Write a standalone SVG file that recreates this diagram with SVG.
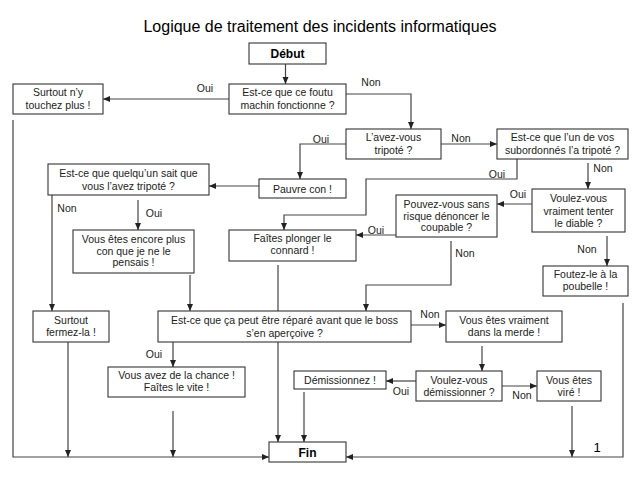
<svg xmlns="http://www.w3.org/2000/svg" width="640" height="480" viewBox="0 0 640 480">
<style>
.box{fill:#fff;stroke:#333;stroke-width:1.1}
.t{font-family:"Liberation Sans",Arial,sans-serif;font-size:10.5px;fill:#222;text-anchor:middle}
.b{font-family:"Liberation Sans",Arial,sans-serif;font-size:12px;font-weight:bold;fill:#000;text-anchor:middle}
.lbl{font-family:"Liberation Sans",Arial,sans-serif;font-size:10.5px;fill:#222;text-anchor:middle}
.c{fill:none;stroke:#444;stroke-width:1.2}
</style>
<defs>
<marker id="ah" markerUnits="userSpaceOnUse" markerWidth="8" markerHeight="8" viewBox="0 0 8 8" refX="7" refY="4" orient="auto">
<path d="M0,1 L7,4 L0,7 Z" fill="#222"/>
</marker>
</defs>
<rect width="640" height="480" fill="#fff"/>
<text x="320" y="32" font-family="Liberation Sans,Arial,sans-serif" font-size="16" fill="#000" text-anchor="middle">Logique de traitement des incidents informatiques</text>

<g id="connectors">
<path class="c" d="M285.5 64 V84" marker-end="url(#ah)"/>
<path class="c" d="M229 99 H103" marker-end="url(#ah)"/>
<path class="c" d="M346 94 H411 V129" marker-end="url(#ah)"/>
<path class="c" d="M441 144 H497" marker-end="url(#ah)"/>
<path class="c" d="M346 144 H300 V179" marker-end="url(#ah)"/>
<path class="c" d="M259 186 H209" marker-end="url(#ah)"/>
<path class="c" d="M517 159 V179 H366 V215 H284 V230" marker-end="url(#ah)"/>
<path class="c" d="M588 163 V189" marker-end="url(#ah)"/>
<path class="c" d="M532 204 H497" marker-end="url(#ah)"/>
<path class="c" d="M607 236 V266" marker-end="url(#ah)"/>
<path class="c" d="M396 235 H356" marker-end="url(#ah)"/>
<path class="c" d="M451 241 V285 H366 V311" marker-end="url(#ah)"/>
<path class="c" d="M623 303 V457 H346" marker-end="url(#ah)"/>
<path class="c" d="M52 195 V311" marker-end="url(#ah)"/>
<path class="c" d="M138 200 V230" marker-end="url(#ah)"/>
<path class="c" d="M190 275 V311" marker-end="url(#ah)"/>
<path class="c" d="M278 265 V311"/>
<path class="c" d="M278 342 V442" marker-end="url(#ah)"/>
<path class="c" d="M173 342 V367" marker-end="url(#ah)"/>
<path class="c" d="M411 325 H446" marker-end="url(#ah)"/>
<path class="c" d="M482 346 V371" marker-end="url(#ah)"/>
<path class="c" d="M416 381 H386" marker-end="url(#ah)"/>
<path class="c" d="M502 386 H537" marker-end="url(#ah)"/>
<path class="c" d="M304 392 V442" marker-end="url(#ah)"/>
<path class="c" d="M572 406 V457" marker-end="url(#ah)"/>
<path class="c" d="M173 411 V457" marker-end="url(#ah)"/>
<path class="c" d="M68 342 V457" marker-end="url(#ah)"/>
<path class="c" d="M13 120 V457 H269" marker-end="url(#ah)"/>
<text class="lbl" x="205" y="92">Oui</text>
<text class="lbl" x="371" y="86">Non</text>
<text class="lbl" x="321" y="143">Oui</text>
<text class="lbl" x="461" y="142">Non</text>
<text class="lbl" x="497" y="178">Oui</text>
<text class="lbl" x="603" y="172">Non</text>
<text class="lbl" x="518" y="198">Oui</text>
<text class="lbl" x="376" y="234">Oui</text>
<text class="lbl" x="465" y="257">Non</text>
<text class="lbl" x="587" y="253">Non</text>
<text class="lbl" x="67" y="212">Non</text>
<text class="lbl" x="154" y="217">Oui</text>
<text class="lbl" x="430" y="318">Non</text>
<text class="lbl" x="154" y="358">Oui</text>
<text class="lbl" x="401" y="395">Oui</text>
<text class="lbl" x="522" y="399">Non</text>
</g>

<g id="debut"><rect class="box" x="249" y="43" width="77" height="21"/><text class="b" x="287.5" y="58">Début</text></g>
<g id="fonctionne"><rect class="box" x="229" y="84" width="117" height="30"/><text class="t" x="287.5" y="96">Est-ce que ce foutu</text><text class="t" x="287.5" y="109">machin fonctionne ?</text></g>
<g id="touchez"><rect class="box" x="13" y="84" width="90" height="30"/><text class="t" x="58" y="96">Surtout n’y</text><text class="t" x="58" y="109">touchez plus !</text></g>
<g id="tripote"><rect class="box" x="346" y="129" width="95" height="30"/><text class="t" x="393.5" y="141">L’avez-vous</text><text class="t" x="393.5" y="154">tripoté ?</text></g>
<g id="subordonnes"><rect class="box" x="497" y="129" width="131" height="30"/><text class="t" x="562.5" y="141">Est-ce que l’un de vos</text><text class="t" x="562.5" y="154">subordonnés l’a tripoté ?</text></g>
<g id="pauvre"><rect class="box" x="259" y="179" width="87" height="19"/><text class="t" x="302.5" y="192.5">Pauvre con !</text></g>
<g id="quelquun"><rect class="box" x="48" y="164" width="161" height="31"/><text class="t" x="128.5" y="177">Est-ce que quelqu’un sait que</text><text class="t" x="128.5" y="190">vous l’avez tripoté ?</text></g>
<g id="diable"><rect class="box" x="532" y="189" width="93" height="43"/><text class="t" x="578.5" y="202">Voulez-vous</text><text class="t" x="578.5" y="215">vraiment tenter</text><text class="t" x="578.5" y="227">le diable ?</text></g>
<g id="denoncer"><rect class="box" x="396" y="195" width="101" height="42"/><text class="t" x="446.5" y="208">Pouvez-vous sans</text><text class="t" x="446.5" y="220">risque dénoncer le</text><text class="t" x="446.5" y="231">coupable ?</text></g>
<g id="plonger"><rect class="box" x="229" y="230" width="127" height="31"/><text class="t" x="292.5" y="242">Faîtes plonger le</text><text class="t" x="292.5" y="254">connard !</text></g>
<g id="encore"><rect class="box" x="73" y="230" width="121" height="43"/><text class="t" x="133.5" y="243">Vous êtes encore plus</text><text class="t" x="133.5" y="255">con que je ne le</text><text class="t" x="133.5" y="266">pensais !</text></g>
<g id="poubelle"><rect class="box" x="543" y="266" width="85" height="30"/><text class="t" x="585.5" y="278">Foutez-le à la</text><text class="t" x="585.5" y="290">poubelle !</text></g>
<g id="fermezla"><rect class="box" x="33" y="311" width="76" height="31"/><text class="t" x="71" y="324">Surtout</text><text class="t" x="71" y="336">fermez-la !</text></g>
<g id="repare"><rect class="box" x="158" y="311" width="253" height="31"/><text class="t" x="284.5" y="324">Est-ce que ça peut être réparé avant que le boss</text><text class="t" x="284.5" y="337">s’en aperçoive ?</text></g>
<g id="merde"><rect class="box" x="446" y="311" width="116" height="31"/><text class="t" x="504" y="324">Vous êtes vraiment</text><text class="t" x="504" y="336">dans la merde !</text></g>
<g id="chance"><rect class="box" x="108" y="367" width="137" height="30"/><text class="t" x="176.5" y="379">Vous avez de la chance !</text><text class="t" x="176.5" y="391">Faîtes le vite !</text></g>
<g id="demissionnez"><rect class="box" x="294" y="371" width="92" height="18"/><text class="t" x="340" y="384">Démissionnez !</text></g>
<g id="voulezdem"><rect class="box" x="416" y="371" width="86" height="30"/><text class="t" x="459" y="384">Voulez-vous</text><text class="t" x="459" y="396">démissionner ?</text></g>
<g id="vire"><rect class="box" x="537" y="371" width="64" height="30"/><text class="t" x="569" y="384">Vous êtes</text><text class="t" x="569" y="396">viré !</text></g>
<g id="fin"><rect class="box" x="269" y="442" width="77" height="20"/><text class="b" x="307.5" y="457">Fin</text></g>
<text x="597" y="452" font-family="Liberation Sans,Arial,sans-serif" font-size="13" fill="#000" text-anchor="middle">1</text>
</svg>
